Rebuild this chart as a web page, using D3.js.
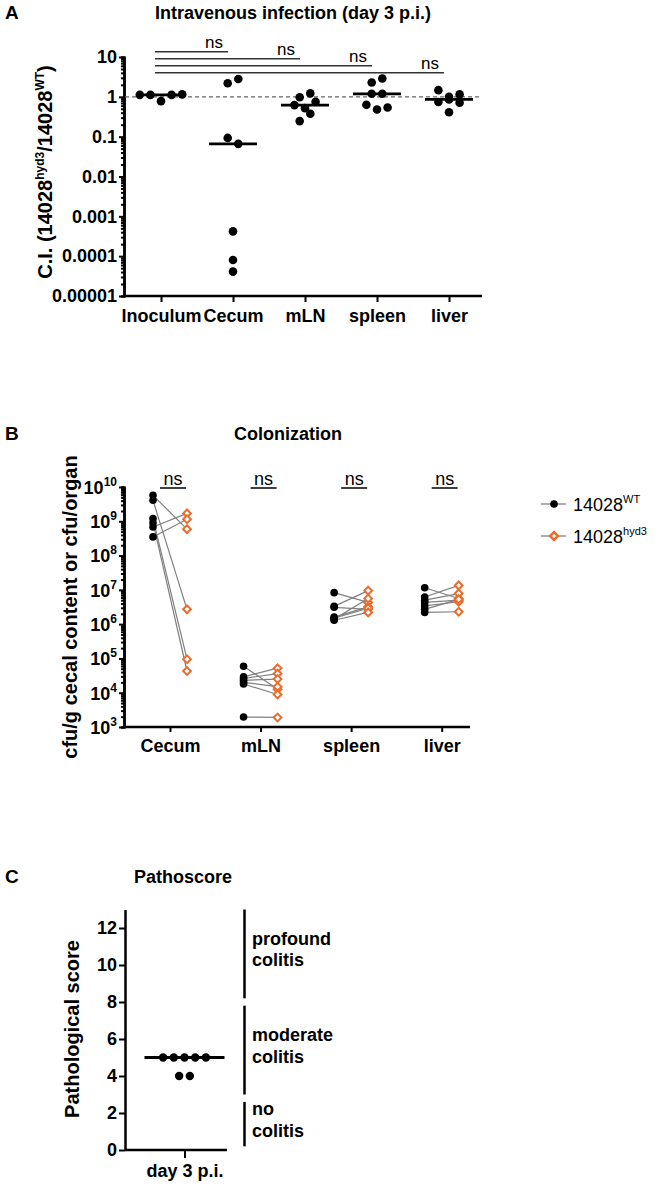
<!DOCTYPE html>
<html>
<head>
<meta charset="utf-8">
<script src="https://cdnjs.cloudflare.com/ajax/libs/d3/7.8.5/d3.min.js"></script>
<style>
  body { margin: 0; background: #fff; }
  text { font-family: "Liberation Sans", Arial, sans-serif; }
</style>
</head>
<body>
<script>
// ---- Panel A: competitive index (14028hyd3 / 14028WT), day 3 p.i.
var ciCategories = ["Inoculum", "Cecum", "mLN", "spleen", "liver"];
var ciInoculum = [1.12, 1.12, 0.78, 1.12, 1.15];
var ciCecum = [2.2, 2.8, 0.093, 0.066, 0.00042, 0.00008, 0.000041];
var ciMLN = [0.98, 1.22, 0.62, 0.52, 0.75, 0.246, 0.376];
var ciSpleen = [2.29, 2.88, 1.19, 1.19, 0.63, 0.48, 0.54];
var ciLiver = [1.47, 1.0, 1.15, 0.74, 0.86, 0.71, 0.41];
var ciTicks = [10, 1, 0.1, 0.01, 0.001, 0.0001, 0.00001];
var ciTickLabels = ["10", "1", "0.1", "0.01", "0.001", "0.0001", "0.00001"];
var ciComparisons = [["Inoculum", "Cecum", "ns"], ["Inoculum", "mLN", "ns"], ["Inoculum", "spleen", "ns"], ["Inoculum", "liver", "ns"]];

// ---- Panel B: colonization, paired per mouse (WT vs hyd3)
var colCategories = ["Cecum", "mLN", "spleen", "liver"];
var wtCecum = [5.7e9, 4.1e9, 1.2e9, 9.1e8, 6.8e8, 3.5e8];
var hydCecum = [5.9e8, 2.7e6, 9.5e4, 4.3e4, 1.7e9, 1.15e9];
var wtMLN = [5.9e4, 2.9e4, 2.6e4, 2.3e4, 2.0e4, 1.8e4, 1.95e3];
var hydMLN = [1.26e4, 5.2e4, 3.6e4, 2.5e4, 1.5e4, 8.9e3, 1.9e3];
var wtSpleen = [8.3e6, 3.3e6, 3.1e6, 1.6e6, 1.5e6, 1.3e6, 1.4e6];
var hydSpleen = [4.3e6, 9.5e6, 2.7e6, 3.2e6, 2.9e6, 2.2e6, 5.6e6];
var wtLiver = [1.15e7, 6.2e6, 5.0e6, 4.3e6, 3.4e6, 2.7e6, 2.2e6];
var hydLiver = [5.6e6, 1.35e7, 7.8e6, 5.0e6, 4.5e6, 5.3e6, 2.3e6];
var colExponents = [3, 4, 5, 6, 7, 8, 9, 10];
var colSignif = ["ns", "ns", "ns", "ns"];
var legendNames = [["14028", "WT"], ["14028", "hyd3"]];

// ---- Panel C: pathoscore
var pathoCategory = ["day 3 p.i."];
var pathoScores = [5, 5, 5, 5, 5, 4, 4];
var pathoTicks = [0, 2, 4, 6, 8, 10, 12];
var pathoBands = [
  {lo: 0.2, hi: 2.6, label: ["no", "colitis"]},
  {lo: 3.0, hi: 7.8, label: ["moderate", "colitis"]},
  {lo: 8.2, hi: 13, label: ["profound", "colitis"]}
];

var orange = "#ec6c2c";
var grey = "#808080";

var svg = d3.select("body").append("svg")
  .attr("width", 658)
  .attr("height", 1186);

// spread points that sit on the same row (GraphPad style scatter)
function rowOffsets(vals, yPos, step) {
  var order = vals.map(function (v, i) { return i; })
    .sort(function (a, b) { return yPos(vals[a]) - yPos(vals[b]); });
  var rows = [];
  order.forEach(function (i) {
    var last = rows[rows.length - 1];
    if (last && yPos(vals[i]) - last.y0 <= 8) last.items.push(i);
    else rows.push({y0: yPos(vals[i]), items: [i]});
  });
  var off = [];
  rows.forEach(function (r) {
    r.items.sort(d3.ascending);
    r.items.forEach(function (i, k) { off[i] = (k - (r.items.length - 1) / 2) * step; });
  });
  return off;
}

function boldAxis(g, size) {
  g.attr("font-size", size)
    .attr("font-family", "Liberation Sans, Arial, sans-serif")
    .attr("font-weight", "bold");
  g.select(".domain").attr("stroke-width", 2.5);
  g.selectAll(".tick line").attr("stroke-width", 2);
  g.selectAll(".tick text").attr("fill", "#000");
}

function logMinors(e0, e1) {
  var out = [];
  d3.range(e0, e1).forEach(function (e) {
    d3.range(2, 10).forEach(function (m) { out.push(m * Math.pow(10, e)); });
  });
  return out;
}

function heading(x, y, letter, title) {
  svg.append("text").attr("x", 5).attr("y", y)
    .attr("font-size", 19).attr("font-weight", "bold").text(letter);
  svg.append("text").attr("x", x).attr("y", y)
    .attr("text-anchor", "middle").attr("font-size", 18).attr("font-weight", "bold").text(title);
}

// ================= Panel A =================
var yA = d3.scaleLog().domain([1e-5, 10]).range([296, 57]);
var xA = d3.scalePoint().domain(ciCategories).range([161, 449]);
var gA = svg.append("g");

heading(293, 19, "A", "Intravenous infection (day 3 p.i.)");

gA.append("g").attr("transform", "translate(124,0)")
  .call(d3.axisLeft(yA).tickValues(logMinors(-5, 1)).tickSize(3).tickFormat(""))
  .call(boldAxis, 18);
gA.append("g").attr("transform", "translate(124,0)")
  .call(d3.axisLeft(yA).tickValues(ciTicks).tickSize(5).tickSizeOuter(0).tickPadding(2)
    .tickFormat(function (d, i) { return ciTickLabels[i]; }))
  .call(boldAxis, 18);

gA.append("line").attr("x1", 124).attr("x2", 482).attr("y1", 296).attr("y2", 296)
  .attr("stroke", "#000").attr("stroke-width", 2.5);
gA.append("g").attr("transform", "translate(0,296)")
  .call(d3.axisBottom(xA).tickSize(6).tickPadding(7))
  .call(boldAxis, 18)
  .call(function (g) { g.select(".domain").remove(); });

// reference line at C.I. = 1
gA.append("line").attr("x1", 125).attr("x2", 482).attr("y1", yA(1)).attr("y2", yA(1))
  .attr("stroke", "#666").attr("stroke-width", 1.2).attr("stroke-dasharray", "4,3");

var ciGroups = [ciInoculum, ciCecum, ciMLN, ciSpleen, ciLiver];
ciGroups.forEach(function (vals, gi) {
  var cx = xA(ciCategories[gi]);
  var off = rowOffsets(vals, yA, 10.6);
  var med = d3.median(vals);
  gA.append("line").attr("x1", cx - 24).attr("x2", cx + 24)
    .attr("y1", yA(med)).attr("y2", yA(med))
    .attr("stroke", "#000").attr("stroke-width", 2.8);
  gA.selectAll(null).data(vals).enter().append("circle")
    .attr("cx", function (d, i) { return cx + off[i]; })
    .attr("cy", function (d) { return yA(d); })
    .attr("r", 4.3)
    .attr("fill", "#000");
});

// significance bars
ciComparisons.forEach(function (c, i) {
  var y = 51.7 + i * 7;
  var x1 = xA(c[0]) - 6, x2 = xA(c[1]) - 5;
  gA.append("line").attr("x1", x1).attr("x2", x2).attr("y1", y).attr("y2", y)
    .attr("stroke", "#333").attr("stroke-width", 1.5);
  gA.append("text").attr("x", x2 - 14).attr("y", y - 3.5)
    .attr("text-anchor", "middle").attr("font-size", 17).text(c[2]);
});

var labA = gA.append("text").attr("transform", "translate(52,172) rotate(-90)")
  .attr("text-anchor", "middle").attr("font-size", 20).attr("font-weight", "bold");
labA.append("tspan").text("C.I. (14028");
labA.append("tspan").attr("font-size", 12).attr("dy", -8).text("hyd3");
labA.append("tspan").attr("dy", 8).text("/14028");
labA.append("tspan").attr("font-size", 12).attr("dy", -8).text("WT");
labA.append("tspan").attr("dy", 8).text(")");

// ================= Panel B =================
var yB = d3.scaleLog().domain([1e3, 1e10]).range([727, 487]);
var xB = d3.scalePoint().domain(colCategories).range([170, 441.7]);
var gB = svg.append("g");

heading(288, 440, "B", "Colonization");

gB.append("g").attr("transform", "translate(124,0)")
  .call(d3.axisLeft(yB).tickValues(logMinors(3, 10)).tickSize(3).tickFormat(""))
  .call(boldAxis, 18);
var yAxisB = gB.append("g").attr("transform", "translate(124,0)")
  .call(d3.axisLeft(yB).tickValues(colExponents.map(function (e) { return Math.pow(10, e); }))
    .tickSize(5).tickSizeOuter(0).tickPadding(2).tickFormat(""))
  .call(boldAxis, 18);
yAxisB.selectAll(".tick text").each(function (d, i) {
  var t = d3.select(this).attr("dy", "0.35em");
  t.append("tspan").text("10");
  t.append("tspan").attr("font-size", 12).attr("dy", -8).text(colExponents[i]);
});
// right-align with the superscript included
yAxisB.selectAll(".tick text").attr("text-anchor", "end");

gB.append("line").attr("x1", 124).attr("x2", 470).attr("y1", 727).attr("y2", 727)
  .attr("stroke", "#000").attr("stroke-width", 2.5);
gB.append("g").attr("transform", "translate(0,727)")
  .call(d3.axisBottom(xB).tickSize(5).tickPadding(7))
  .call(boldAxis, 18)
  .call(function (g) { g.select(".domain").remove(); });

var colPairs = [[wtCecum, hydCecum], [wtMLN, hydMLN], [wtSpleen, hydSpleen], [wtLiver, hydLiver]];
colPairs.forEach(function (p, gi) {
  var cx = xB(colCategories[gi]);
  var xw = cx - 17, xh = cx + 17;
  p[0].forEach(function (w, i) {
    gB.append("line").attr("x1", xw).attr("y1", yB(w)).attr("x2", xh).attr("y2", yB(p[1][i]))
      .attr("stroke", grey).attr("stroke-width", 1.2);
  });
  gB.selectAll(null).data(p[0]).enter().append("circle")
    .attr("cx", xw).attr("cy", function (d) { return yB(d); })
    .attr("r", 3.8).attr("fill", "#000");
  gB.selectAll(null).data(p[1]).enter().append("path")
    .attr("d", d3.symbol(d3.symbolSquare, 30))
    .attr("transform", function (d) { return "translate(" + xh + "," + yB(d) + ") rotate(45)"; })
    .attr("fill", "#fff").attr("stroke", orange).attr("stroke-width", 2);

  gB.append("line").attr("x1", cx - 10).attr("x2", cx + 16).attr("y1", 488).attr("y2", 488)
    .attr("stroke", "#000").attr("stroke-width", 1.5);
  gB.append("text").attr("x", cx + 3).attr("y", 485)
    .attr("text-anchor", "middle").attr("font-size", 18).text(colSignif[gi]);
});

var labB = gB.append("text").attr("transform", "translate(77,607) rotate(-90)")
  .attr("text-anchor", "middle").attr("font-size", 20).attr("font-weight", "bold")
  .text("cfu/g cecal content or cfu/organ");

// legend
legendNames.forEach(function (n, i) {
  var ly = 504 + i * 32;
  var lg = gB.append("g");
  lg.append("line").attr("x1", 541).attr("x2", 566).attr("y1", ly).attr("y2", ly)
    .attr("stroke", grey).attr("stroke-width", 1.3);
  if (i === 0) {
    lg.append("circle").attr("cx", 554).attr("cy", ly).attr("r", 3.8).attr("fill", "#000");
  } else {
    lg.append("path").attr("d", d3.symbol(d3.symbolSquare, 30))
      .attr("transform", "translate(554," + ly + ") rotate(45)")
      .attr("fill", "#fff").attr("stroke", orange).attr("stroke-width", 2.5);
  }
  var t = lg.append("text").attr("x", 573).attr("y", ly + 7).attr("font-size", 18);
  t.append("tspan").text(n[0]);
  t.append("tspan").attr("font-size", 11).attr("dy", -8).text(n[1]);
});

// ================= Panel C =================
var yC = d3.scaleLinear().domain([0, 13]).range([1150, 909.5]);
var xC = d3.scalePoint().domain(pathoCategory).range([125, 244]).padding(0.5);
var gC = svg.append("g");

heading(183, 883, "C", "Pathoscore");

gC.append("g").attr("transform", "translate(125,0)")
  .call(d3.axisLeft(yC).tickValues(pathoTicks).tickSize(6).tickSizeOuter(0).tickPadding(2))
  .call(boldAxis, 18);
gC.append("line").attr("x1", 125).attr("x2", 227).attr("y1", 1150).attr("y2", 1150)
  .attr("stroke", "#000").attr("stroke-width", 2.5);
gC.append("g").attr("transform", "translate(0,1150)")
  .call(d3.axisBottom(xC).tickSize(8).tickPadding(6))
  .call(boldAxis, 18)
  .call(function (g) { g.select(".domain").remove(); });

var cxC = xC(pathoCategory[0]);
var offC = rowOffsets(pathoScores, yC, 10.7);
gC.append("line").attr("x1", cxC - 40).attr("x2", cxC + 40)
  .attr("y1", yC(d3.median(pathoScores))).attr("y2", yC(d3.median(pathoScores)))
  .attr("stroke", "#000").attr("stroke-width", 2.8);
gC.selectAll(null).data(pathoScores).enter().append("circle")
  .attr("cx", function (d, i) { return cxC + offC[i]; })
  .attr("cy", function (d) { return yC(d); })
  .attr("r", 4.2).attr("fill", "#000");

pathoBands.forEach(function (b) {
  gC.append("line").attr("x1", 244.5).attr("x2", 244.5).attr("y1", yC(b.hi)).attr("y2", yC(b.lo))
    .attr("stroke", "#000").attr("stroke-width", 2.5);
  var yc = yC((b.lo + b.hi) / 2);
  b.label.forEach(function (s, k) {
    gC.append("text").attr("x", 252).attr("y", yc - 9 + k * 21.5)
      .attr("font-size", 18).attr("font-weight", "bold").text(s);
  });
});

gC.append("text").attr("transform", "translate(79,1029) rotate(-90)")
  .attr("text-anchor", "middle").attr("font-size", 20).attr("font-weight", "bold")
  .text("Pathological score");
</script>
</body>
</html>
